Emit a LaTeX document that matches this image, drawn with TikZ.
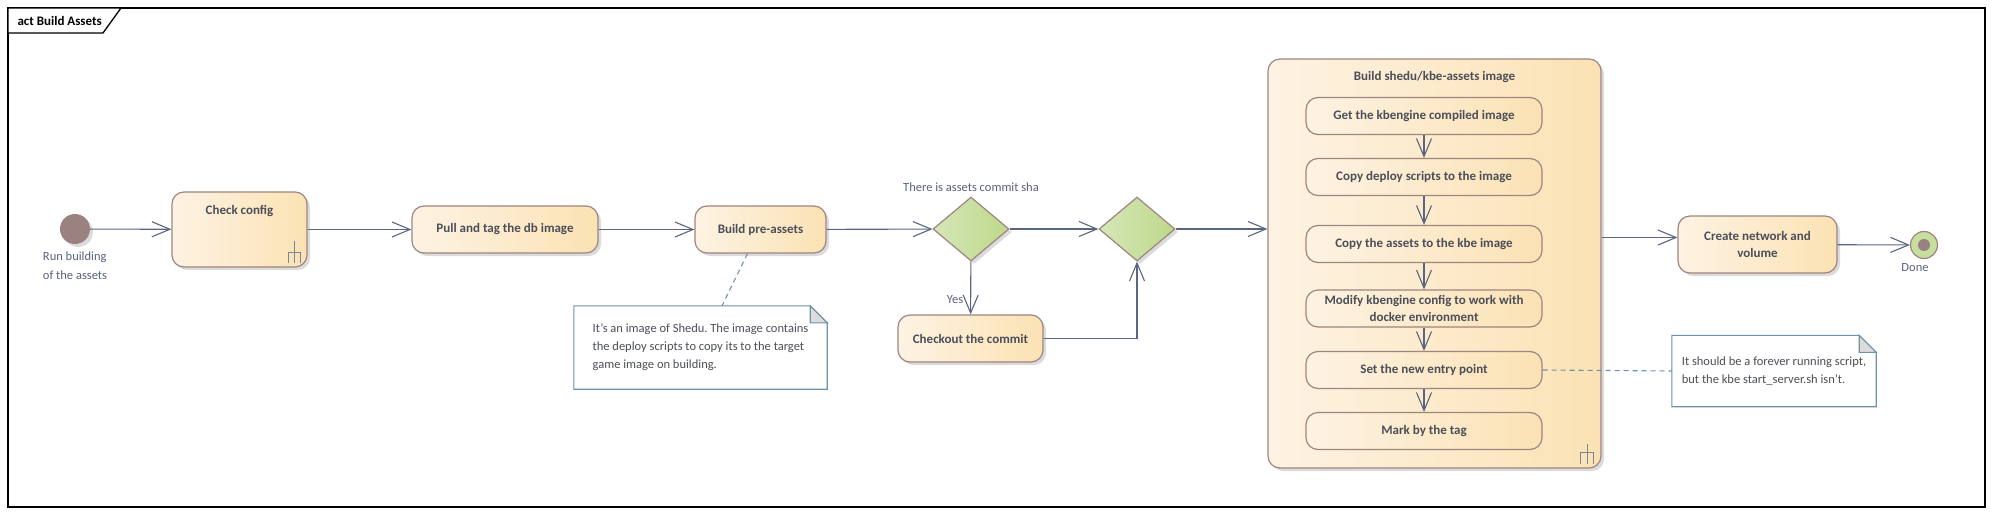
\documentclass[tikz,border=0pt]{standalone}
\usepackage{fontspec}
\setmainfont{Carlito}
\frenchspacing
\usetikzlibrary{arrows.meta,shapes.geometric,shadows,positioning,backgrounds}

\definecolor{flowc}{HTML}{5B6580}
\definecolor{actline}{HTML}{9E8580}
\definecolor{actl}{HTML}{FDF3E3}
\definecolor{actr}{HTML}{FBE2B4}
\definecolor{decl}{HTML}{D6E7B8}
\definecolor{decr}{HTML}{BDD88A}
\definecolor{donec}{HTML}{C6DF9E}
\definecolor{noteline}{HTML}{6E93A4}
\definecolor{foldc}{HTML}{DCDCDC}
\definecolor{acttxt}{HTML}{4C4E58}
\definecolor{lbltxt}{HTML}{59617A}
\definecolor{startc}{HTML}{9A8280}

\tikzset{
    shade/.style={drop shadow={shadow xshift=3pt,shadow yshift=-3pt,fill=black!40,opacity=0.35}},
    action/.style={draw=actline,line width=1.2pt,rounded corners=12pt,
        left color=actl,right color=actr,text=acttxt,inner sep=3pt,
        font=\bfseries\fontsize{13}{17.5}\selectfont,align=center},
    decision/.style={diamond,draw=actline,line width=1.2pt,left color=decl,right color=decr,
        inner sep=0pt,minimum width=76pt,minimum height=64pt,shade},
    notebox/.style={text=acttxt,font=\fontsize{12.5}{18}\selectfont,align=left,inner sep=0pt},
    lbl/.style={text=lbltxt,font=\fontsize{12.5}{19}\selectfont,inner sep=0pt},
    flow/.style={flowc,line width=1.1pt,-{Straight Barb[length=18pt,width=15pt]}},
    anchorline/.style={noteline,line width=1.1pt,dash pattern=on 5pt off 4pt},
    rake/.style={flowc!80,line width=1pt},
}

\begin{document}
\begin{tikzpicture}[x=1pt,y=-1pt]
    \useasboundingbox (0,0) rectangle (1994,514);
    %% frame
    \draw[line width=1.3pt] (8,8) rectangle (1985,507);
    \draw[line width=1.3pt,fill=white] (8,8) -- (121,8) -- (103,33) -- (8,33) -- cycle;
    \node[anchor=west,font=\bfseries\fontsize{13}{14}\selectfont] (title) at (14,20.5) {act Build Assets};

    %% main flow
    \node[circle,fill=startc,minimum size=30pt,inner sep=0pt,shade] (start) at (75,229) {};
    \node[lbl,align=left,anchor=north] (startlbl) at ([yshift=-7pt]start.south) {Run building\\of the assets};
    \node[action,shade,minimum width=135pt,text height=19pt,text depth=50pt] (cfg) at (239.5,229.5) {Check config};
    \node[action,shade,minimum width=186pt,minimum height=47pt] (pull) at (505,229.5) {Pull and tag the db image};
    \node[action,shade,minimum width=131pt,minimum height=47pt] (pre) at (760.5,229.5) {Build pre-assets};
    \node[decision] (dec1) at (971,229) {};
    \node[lbl,anchor=south] (declbl) at ([yshift=5pt]dec1.north) {There is assets commit sha};
    \node[decision] (dec2) at (1137,229) {};
    \node[action,shade,minimum width=145pt,minimum height=47pt] (chk) at (970.5,338.5) {Checkout the commit};

    %% build image
    \node[action,shade,minimum width=333pt,text height=18pt,text depth=385pt] (box) at (1434.5,263.5) {Build shedu/kbe-assets image};
    \foreach \y/\t [count=\i] in {116/{Get the kbengine compiled image},
                                 177/{Copy deploy scripts to the image},
                                 244/{Copy the assets to the kbe image},
                                 308.5/{Modify kbengine config to work with\\docker environment},
                                 370/{Set the new entry point},
                                 431/{Mark by the tag}}
        \node[action,minimum width=236pt,minimum height=37pt] (s\i) at (1424,\y) {\t};
    \foreach \i [evaluate=\i as \j using int(\i+1)] in {1,...,5}
        \draw[flow] (s\i) -- (s\j);

    \node[action,shade,minimum width=159pt,minimum height=57pt] (net) at (1757.5,244.5) {Create network and\\volume};
    \node[circle,draw=actline,line width=1.2pt,fill=donec,minimum size=27pt,inner sep=0pt,
        path picture={\fill[startc] (path picture bounding box.center) circle (6pt);}] (done) at (1924,245) {};
    \node[lbl,anchor=north] (donelbl) at ([xshift=-9pt,yshift=-4pt]done.south) {Done};

    %% rakes
    \draw[rake] ([shift={(-19,-5)}]cfg.south east) -- ++(0,-10) -- ++(12,0) -- ++(0,10)
        ([shift={(-13,-5)}]cfg.south east) -- ++(0,-22);
    \draw[rake] ([shift={(-21,-5)}]box.south east) -- ++(0,-11) -- ++(13,0) -- ++(0,11)
        ([shift={(-14.5,-5)}]box.south east) -- ++(0,-20);

    %% notes
    \node[notebox,minimum width=253pt,minimum height=83pt] (note1) at (700.5,347.5)
        {It's an image of Shedu. The image contains\\the deploy scripts to copy its to the target\\game image on building.};
    \node[notebox,minimum width=204pt,minimum height=71pt] (note2) at (1774,371)
        {It should be a forever running script,\\but the kbe start\_server.sh isn't.};
    \begin{scope}[on background layer]
    \foreach \n in {note1,note2} {
        \draw[noteline,line width=1.1pt,fill=white] (\n.south west) -- (\n.north west) -- ([xshift=-17pt]\n.north east)
            -- ([yshift=-17pt]\n.north east) -- (\n.south east) -- cycle;
        \draw[noteline,line width=1.1pt,fill=foldc] ([xshift=-17pt]\n.north east) -- ([yshift=-17pt]\n.north east)
            -- ([xshift=-17pt,yshift=-17pt]\n.north east) -- cycle;
    }
    \end{scope}

    %% connectors
    \draw[flow] (start) -- (cfg);
    \draw[flow] (cfg) -- (pull);
    \draw[flow] (pull) -- (pre);
    \draw[flow] (pre) -- (dec1);
    \draw[flow] (dec1) -- (dec2);
    \draw[flow] (dec1) -- (chk) node[lbl,pos=0.72,anchor=east,xshift=-7pt] {Yes};
    \draw[flow] (chk.east) -| (dec2.south);
    \draw[flow] (dec2) -- (dec2 -| box.west);
    \draw[flow] ([yshift=7pt]box.east |- net.west) -- ([yshift=7pt]net.west);
    \draw[flow] (net) -- (done);
    \draw[anchorline] ([xshift=-13pt]pre.south) -- ([xshift=21.5pt]note1.north);
    \draw[anchorline] (s5.east) -- (note2.west);
\end{tikzpicture}
\end{document}
